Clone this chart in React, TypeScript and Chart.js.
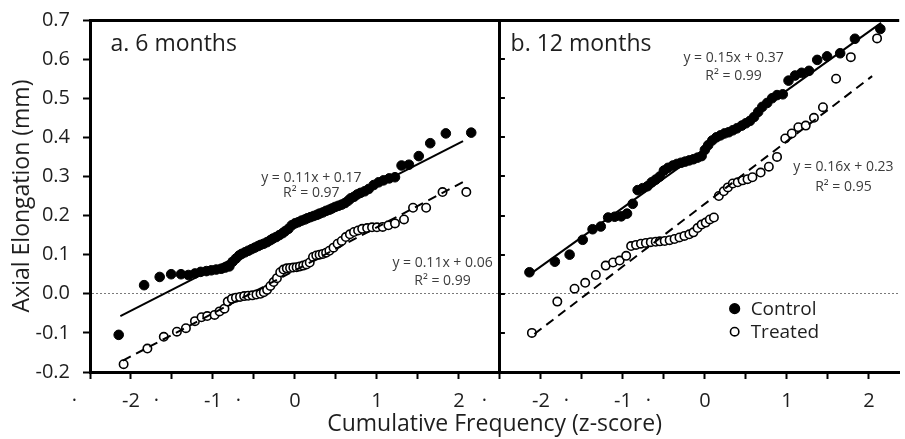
import React, { useEffect, useRef } from "react";
import { Chart, registerables } from "chart.js";

Chart.register(...registerables);

// ---------- data ----------
// Panel a: 6 months
const leftControlZ = [-2.15, -1.84, -1.65, -1.51, -1.39, -1.30, -1.22, -1.15, -1.08, -1.02, -0.96, -0.90, -0.85, -0.80, -0.76, -0.72, -0.68, -0.65, -0.61, -0.57, -0.53, -0.49, -0.45, -0.42, -0.38, -0.34, -0.30, -0.27, -0.23, -0.19, -0.15, -0.12, -0.08, -0.04, 0.0, 0.04, 0.08, 0.12, 0.15, 0.19, 0.23, 0.27, 0.30, 0.34, 0.38, 0.42, 0.45, 0.49, 0.53, 0.57, 0.61, 0.65, 0.68, 0.72, 0.76, 0.80, 0.85, 0.90, 0.96, 1.02, 1.08, 1.15, 1.22, 1.30, 1.39, 1.51, 1.65, 1.84, 2.15];
const leftControlY = [-0.105, 0.022, 0.043, 0.05, 0.05, 0.048, 0.052, 0.056, 0.058, 0.06, 0.062, 0.064, 0.067, 0.07, 0.082, 0.09, 0.098, 0.102, 0.106, 0.11, 0.114, 0.118, 0.122, 0.125, 0.128, 0.132, 0.137, 0.141, 0.145, 0.15, 0.155, 0.16, 0.166, 0.175, 0.18, 0.183, 0.187, 0.19, 0.193, 0.196, 0.199, 0.202, 0.205, 0.208, 0.212, 0.215, 0.218, 0.222, 0.225, 0.228, 0.232, 0.238, 0.244, 0.248, 0.254, 0.258, 0.262, 0.268, 0.278, 0.285, 0.29, 0.295, 0.298, 0.328, 0.33, 0.352, 0.385, 0.41, 0.412];

const leftTreatedZ = [-2.09, -1.80, -1.60, -1.44, -1.33, -1.22, -1.14, -1.07, -0.98, -0.92, -0.86, -0.82, -0.77, -0.72, -0.67, -0.62, -0.57, -0.52, -0.47, -0.42, -0.38, -0.34, -0.30, -0.26, -0.22, -0.18, -0.14, -0.10, -0.06, -0.02, 0.02, 0.06, 0.10, 0.14, 0.18, 0.22, 0.26, 0.30, 0.34, 0.38, 0.42, 0.47, 0.52, 0.57, 0.62, 0.67, 0.72, 0.77, 0.82, 0.88, 0.94, 1.00, 1.07, 1.14, 1.22, 1.33, 1.44, 1.60, 1.80, 2.09];
const leftTreatedY = [-0.18, -0.14, -0.11, -0.097, -0.088, -0.07, -0.06, -0.057, -0.054, -0.045, -0.038, -0.02, -0.013, -0.01, -0.008, -0.006, -0.005, -0.004, -0.002, 0.0, 0.004, 0.01, 0.02, 0.03, 0.04, 0.055, 0.062, 0.065, 0.066, 0.067, 0.068, 0.07, 0.072, 0.075, 0.08, 0.094, 0.098, 0.1, 0.102, 0.105, 0.11, 0.118, 0.128, 0.135, 0.145, 0.152, 0.158, 0.162, 0.166, 0.168, 0.17, 0.17, 0.171, 0.175, 0.18, 0.19, 0.22, 0.22, 0.26, 0.26];

// Panel b: 12 months
const rightControlZ = [-2.14, -1.83, -1.65, -1.49, -1.37, -1.27, -1.18, -1.10, -1.02, -0.95, -0.88, -0.82, -0.76, -0.70, -0.65, -0.60, -0.55, -0.50, -0.45, -0.39, -0.34, -0.29, -0.24, -0.19, -0.14, -0.09, -0.04, 0.0, 0.04, 0.09, 0.14, 0.19, 0.24, 0.29, 0.34, 0.39, 0.45, 0.50, 0.55, 0.60, 0.65, 0.70, 0.76, 0.82, 0.88, 0.95, 1.02, 1.10, 1.18, 1.27, 1.37, 1.49, 1.65, 1.83, 2.14];
const rightControlY = [0.055, 0.082, 0.1, 0.138, 0.165, 0.172, 0.195, 0.197, 0.198, 0.205, 0.23, 0.265, 0.27, 0.275, 0.285, 0.292, 0.3, 0.315, 0.322, 0.328, 0.332, 0.335, 0.338, 0.341, 0.344, 0.348, 0.352, 0.368, 0.38, 0.392, 0.4, 0.405, 0.41, 0.413, 0.418, 0.423, 0.43, 0.436, 0.442, 0.452, 0.465, 0.478, 0.488, 0.5, 0.508, 0.51, 0.545, 0.558, 0.565, 0.57, 0.598, 0.607, 0.615, 0.652, 0.677];

const rightTreatedZ = [-2.11, -1.80, -1.59, -1.46, -1.33, -1.21, -1.12, -1.04, -0.96, -0.90, -0.84, -0.78, -0.72, -0.66, -0.60, -0.55, -0.49, -0.43, -0.37, -0.31, -0.25, -0.19, -0.14, -0.09, -0.04, 0.01, 0.06, 0.11, 0.17, 0.23, 0.28, 0.34, 0.40, 0.46, 0.52, 0.58, 0.68, 0.78, 0.88, 0.98, 1.06, 1.14, 1.23, 1.33, 1.44, 1.60, 1.78, 2.10];
const rightTreatedY = [-0.1, -0.02, 0.013, 0.028, 0.048, 0.072, 0.08, 0.085, 0.097, 0.122, 0.125, 0.128, 0.13, 0.132, 0.133, 0.134, 0.135, 0.137, 0.14, 0.144, 0.148, 0.152, 0.157, 0.168, 0.177, 0.182, 0.19, 0.195, 0.25, 0.262, 0.272, 0.282, 0.285, 0.29, 0.293, 0.298, 0.31, 0.325, 0.35, 0.397, 0.41, 0.426, 0.43, 0.45, 0.477, 0.55, 0.605, 0.653];

// Regression fits: [slope, intercept, zStart, zEnd]
const leftControlFit = [0.107, 0.171, -2.13, 2.05];
const leftTreatedFit = [0.11, 0.06, -2.1, 2.05];
const rightControlFit = [0.15, 0.37, -2.14, 2.15];
const rightTreatedFit = [0.16, 0.23, -2.08, 2.04];

const panelTitles = ["a. 6 months", "b. 12 months"];
const equationTexts = [
  ["y = 0.11x + 0.17", "R² = 0.97"],
  ["y = 0.11x + 0.06", "R² = 0.99"],
  ["y = 0.15x + 0.37", "R² = 0.99"],
  ["y = 0.16x + 0.23", "R² = 0.95"],
];
const legendLabels = ["Control", "Treated"];
const yTitle = "Axial Elongation (mm)";
const xTitle = "Cumulative Frequency (z-score)";

// ---------- layout helpers (not data) ----------
const PANEL_SHIFT = 5; // panel b is drawn on the same axis, offset by 5 z-units
const X_MIN = -2.5;
const X_MAX = 7.37;
const FONT = "'Open Sans', 'Noto Sans', sans-serif";
const TEXT = "#1e1e1e";

const pts = (zs: number[], ys: number[], shift: number) =>
  zs.map((z, i) => ({ x: z + shift, y: ys[i] }));
const fitLine = (f: number[], shift: number) => [
  { x: f[2] + shift, y: f[0] * f[2] + f[1] },
  { x: f[3] + shift, y: f[0] * f[3] + f[1] },
];

// text anchors in data coordinates [x (panel z), y] + panel index
const titleAnchors = [
  { panel: 0, z: -2.25, y: 0.62 },
  { panel: 1, z: -2.37, y: 0.62 },
];
const eqAnchors = [
  { panel: 0, z: 0.2, y1: 0.296, y2: 0.258 },
  { panel: 0, z: 1.8, y1: 0.079, y2: 0.033 },
  { panel: 1, z: 0.35, y1: 0.604, y2: 0.556 },
  { panel: 1, z: 1.69, y1: 0.325, y2: 0.274 },
];
const legendAnchor = { panel: 1, z: 0.363, y1: -0.038, y2: -0.097 };

const near = (a: number, b: number) => Math.abs(a - b) < 1e-6;

const overlayPlugin = {
  id: "overlay",
  afterDatasetsDraw(chart: any) {
    const { ctx, scales, chartArea } = chart;
    const xs = scales.x;
    const ys = scales.y;
    const px = (panel: number, z: number) => xs.getPixelForValue(z + panel * PANEL_SHIFT);
    ctx.save();
    // inner y ticks on the panel divider
    const divX = xs.getPixelForValue(2.5);
    ctx.strokeStyle = "#000";
    ctx.lineWidth = 2;
    ys.ticks.forEach((t: any) => {
      const y = Math.round(ys.getPixelForValue(t.value));
      if (y <= chartArea.top + 2 || y >= chartArea.bottom - 2) return;
      ctx.beginPath();
      ctx.moveTo(divX, y);
      ctx.lineTo(divX + 5, y);
      ctx.stroke();
    });
    // panel titles
    ctx.fillStyle = TEXT;
    ctx.font = `23px ${FONT}`;
    ctx.textAlign = "left";
    ctx.textBaseline = "alphabetic";
    titleAnchors.forEach((a, i) => {
      ctx.fillText(panelTitles[i], px(a.panel, a.z), ys.getPixelForValue(a.y));
    });
    // equations
    ctx.fillStyle = "#3c3c3c";
    ctx.font = `14px ${FONT}`;
    ctx.textAlign = "center";
    ctx.textBaseline = "middle";
    eqAnchors.forEach((a, i) => {
      const x = px(a.panel, a.z);
      ctx.fillText(equationTexts[i][0], x, ys.getPixelForValue(a.y1));
      ctx.fillText(equationTexts[i][1], x, ys.getPixelForValue(a.y2));
    });
    // legend
    const lx = px(legendAnchor.panel, legendAnchor.z);
    const rows = [legendAnchor.y1, legendAnchor.y2];
    ctx.font = `19px ${FONT}`;
    ctx.textAlign = "left";
    rows.forEach((yv, i) => {
      const y = ys.getPixelForValue(yv);
      ctx.beginPath();
      ctx.arc(lx, y, i === 0 ? 4.8 : 4.2, 0, Math.PI * 2);
      ctx.fillStyle = i === 0 ? "#000" : "#fff";
      ctx.fill();
      ctx.lineWidth = 1.6;
      ctx.strokeStyle = "#000";
      ctx.stroke();
      ctx.fillStyle = TEXT;
      ctx.fillText(legendLabels[i], lx + 16, y + 1);
    });
    ctx.restore();
  },
};

export default function App() {
  const ref = useRef<HTMLCanvasElement | null>(null);

  useEffect(() => {
    document.body.style.margin = "0";
    const canvas = ref.current;
    if (!canvas) return;

    const controlStyle = {
      type: "scatter" as const,
      pointRadius: 4.8,
      pointBackgroundColor: "#000",
      pointBorderColor: "#000",
      pointBorderWidth: 1,
      showLine: false,
    };
    const treatedStyle = {
      type: "scatter" as const,
      pointRadius: 4.2,
      pointBackgroundColor: "#fff",
      pointBorderColor: "#000",
      pointBorderWidth: 1.6,
      showLine: false,
    };
    const solid = {
      type: "line" as const,
      borderColor: "#000",
      borderWidth: 2,
      pointRadius: 0,
      fill: false,
    };
    const dashed = { ...solid, borderDash: [9, 6] };

    const chart = new Chart(canvas, {
      type: "scatter",
      data: {
        datasets: [
          { ...solid, label: "fit a control", data: fitLine(leftControlFit, 0) },
          { ...dashed, label: "fit a treated", data: fitLine(leftTreatedFit, 0) },
          { ...solid, label: "fit b control", data: fitLine(rightControlFit, PANEL_SHIFT) },
          { ...dashed, label: "fit b treated", data: fitLine(rightTreatedFit, PANEL_SHIFT) },
          { ...treatedStyle, label: "Treated 6", data: pts(leftTreatedZ, leftTreatedY, 0) },
          { ...controlStyle, label: "Control 6", data: pts(leftControlZ, leftControlY, 0) },
          { ...treatedStyle, label: "Treated 12", data: pts(rightTreatedZ, rightTreatedY, PANEL_SHIFT) },
          { ...controlStyle, label: "Control 12", data: pts(rightControlZ, rightControlY, PANEL_SHIFT) },
        ] as any,
      },
      options: {
        animation: false,
        responsive: false,
        maintainAspectRatio: false,
        layout: { padding: { top: 20, left: 0, right: 0, bottom: 0 } },
        plugins: { legend: { display: false }, tooltip: { enabled: false } },
        scales: {
          x: {
            type: "linear",
            min: X_MIN,
            max: X_MAX,
            afterFit: (s: any) => {
              s.height = 67;
              s.paddingLeft = 0;
              s.paddingRight = 0;
            },
            ticks: {
              stepSize: 0.5,
              includeBounds: false,
              autoSkip: false,
              maxRotation: 0,
              padding: 10,
              color: TEXT,
              font: { family: FONT, size: 20 },
              callback: (v: any) => {
                const n = Number(v);
                let local = n;
                if (n > 2.5 + 1e-6) local = n - PANEL_SHIFT;
                else if (near(n, 2.5)) local = -2.5;
                const r = Math.round(local);
                if (near(local, r)) return String(r === 0 ? 0 : r);
                if (local < 0) return "·      ";
                return "";
              },
            },
            grid: {
              drawOnChartArea: true,
              color: (c: any) => (c.tick && near(c.tick.value, 2.5) ? "#000" : "rgba(0,0,0,0)"),
              lineWidth: (c: any) => (c.tick && near(c.tick.value, 2.5) ? 3 : 1),
              tickColor: "#000",
              tickWidth: 2,
              tickLength: 7,
            },
            border: { display: true, color: "#000", width: 3 },
            title: {
              display: true,
              text: xTitle,
              color: TEXT,
              font: { family: FONT, size: 23 },
              padding: { top: 0, bottom: 1 },
            },
          },
          y: {
            type: "linear",
            min: -0.2,
            max: 0.7,
            afterFit: (s: any) => {
              s.width = 90;
              s.paddingTop = 0;
              s.paddingBottom = 0;
            },
            ticks: {
              stepSize: 0.1,
              padding: 13,
              color: TEXT,
              font: { family: FONT, size: 20 },
              callback: (v: any) => {
                const n = Number(v);
                return (near(n, 0) ? 0 : n).toFixed(1);
              },
            },
            grid: {
              drawOnChartArea: true,
              color: (c: any) => {
                if (!c.tick) return "rgba(0,0,0,0)";
                if (near(c.tick.value, 0)) return "#7a7a7a";
                if (near(c.tick.value, 0.7)) return "#000";
                return "rgba(0,0,0,0)";
              },
              lineWidth: (c: any) => (c.tick && near(c.tick.value, 0.7) ? 3 : 1),
              tickColor: "#000",
              tickWidth: 2,
              tickLength: 7,
            },
            border: {
              display: true,
              color: "#000",
              width: 3,
              dash: (c: any) => (c.tick && near(c.tick.value, 0) ? [2, 2] : []),
            },
            title: {
              display: true,
              text: yTitle,
              color: TEXT,
              font: { family: FONT, size: 23 },
              padding: { top: 9, bottom: 0 },
            },
          },
        },
      } as any,
      plugins: [overlayPlugin],
    });
    return () => chart.destroy();
  }, []);

  return (
    <div style={{ position: "relative", width: 905, height: 439, background: "#fff" }}>
      <canvas ref={ref} width={905} height={439} style={{ display: "block", width: 905, height: 439 }} />
    </div>
  );
}
